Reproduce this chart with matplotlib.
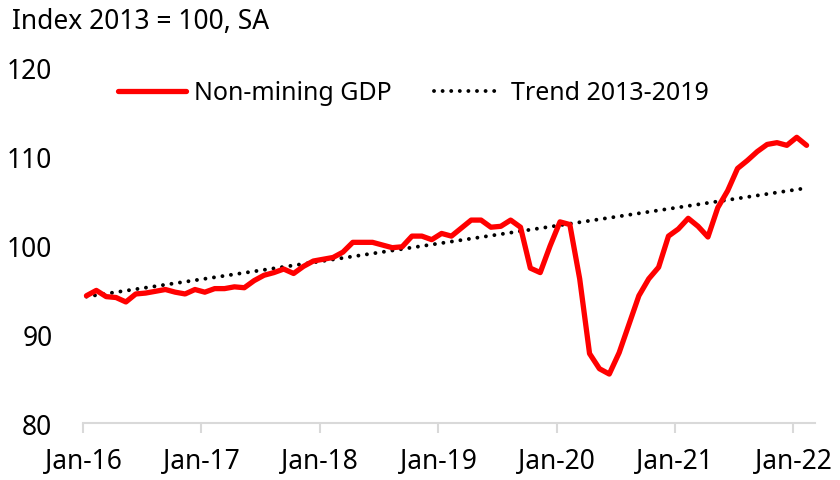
import numpy as np
import matplotlib.pyplot as plt

# Non-mining GDP, index 2013 = 100, SA (Jan-16 .. Feb-22, monthly)
months = ['Jan-16', 'Jan-17', 'Jan-18', 'Jan-19', 'Jan-20', 'Jan-21', 'Jan-22']
gdp = [94.3, 94.9, 94.2, 94.1, 93.6, 94.5, 94.6, 94.8, 95.0, 94.7, 94.5, 95.0,
       94.7, 95.1, 95.1, 95.3, 95.2, 96.0, 96.6, 96.9, 97.3, 96.8, 97.6, 98.2,
       98.4, 98.6, 99.2, 100.3, 100.3, 100.3, 100.0, 99.7, 99.8, 101.0, 101.0, 100.6,
       101.3, 101.0, 101.9, 102.8, 102.8, 102.0, 102.1, 102.8, 102.0, 97.4, 96.9, 99.9,
       102.6, 102.3, 96.2, 87.8, 86.1, 85.5, 87.9, 91.1, 94.3, 96.2, 97.5, 101.0,
       101.8, 103.0, 102.1, 100.9, 104.2, 106.1, 108.6, 109.5, 110.5, 111.3, 111.5, 111.2,
       112.1, 111.2]
# trend 2013-2019 extrapolated: start / end values
trend_idx = [0, 73]
trend_val = [94.2, 106.4]

plt.rcParams['font.family'] = ['Noto Sans', 'DejaVu Sans']

fig = plt.figure(figsize=(8.4, 4.81), dpi=100)
ax = fig.add_axes([0.0988, 0.1185, 0.8714, 0.7401])

x = np.arange(len(gdp)) + 0.35
ax.plot(x, gdp, color='#FF0000', linewidth=3.8, solid_joinstyle='round',
        solid_capstyle='round', label='Non-mining GDP', zorder=3)
ax.plot(np.array(trend_idx) + 0.35, trend_val, color='black', linewidth=2.8,
        linestyle=(0, (0.01, 2.2)), dash_capstyle='round', label='Trend 2013-2019', zorder=2)

ax.set_ylim(80, 120)
ax.set_yticks([80, 90, 100, 110, 120])
ax.set_xlim(0, 74.2)
ax.set_xticks(np.arange(0, 73, 12))
ax.set_xticklabels(months)

for s in ['top', 'right', 'left']:
    ax.spines[s].set_visible(False)
ax.spines['bottom'].set_color('#d9d9d9')
ax.spines['bottom'].set_linewidth(1.5)
ax.tick_params(axis='x', direction='out', length=7, width=1.5, color='#d9d9d9',
               labelsize=19, pad=10)
ax.tick_params(axis='y', length=0, labelsize=19, pad=22)
ax.set_facecolor('none')

fig.text(12 / 840, 1 - 22 / 481, 'Index 2013 = 100, SA', fontsize=19, va='center', ha='left')

ax.legend(loc='center left', bbox_to_anchor=(118 / 840, 1 - 94 / 481), bbox_transform=fig.transFigure,
          ncol=2, frameon=False, fontsize=18, handlelength=2.7, handletextpad=0.35,
          columnspacing=1.7, borderpad=0, borderaxespad=0)

plt.savefig('out.png', dpi=100)
